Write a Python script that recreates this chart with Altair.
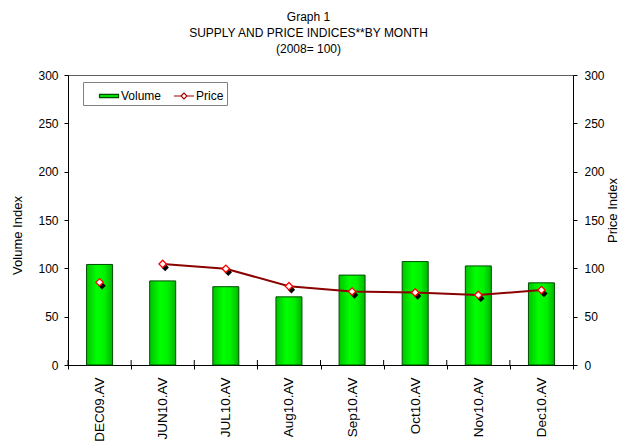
import altair as alt
import pandas as pd

months = ["DEC09.AV", "JUN10.AV", "JUL10.AV", "Aug10.AV",
          "Sep10.AV", "Oct10.AV", "Nov10.AV", "Dec10.AV"]
volume = [104, 87, 81, 70.5, 93, 107, 102.5, 85]
price = [85.5, 104.5, 99.5, 81.5, 76, 75, 72.5, 77.5]
# the price line is not drawn between the first and second month
price_in_line = [False, True, True, True, True, True, True, True]

series_names = ["Volume", "Price"]
y_ticks = [0, 50, 100, 150, 200, 250, 300]
title_lines = ["Graph 1", "SUPPLY AND PRICE INDICES**BY MONTH", "(2008= 100)"]

FONT = "Liberation Sans, Arial, sans-serif"
W, H = 505, 290

df = pd.DataFrame({"month": months, "volume": volume, "price": price,
                   "in_line": price_in_line})
legend_df = pd.DataFrame({"series": series_names})

x_enc = alt.X("month:N", sort=months,
              scale=alt.Scale(paddingInner=0, paddingOuter=0),
              axis=alt.Axis(title=None, labelAngle=270, labelAlign="right",
                            labelBaseline="middle", labelPadding=8,
                            ticks=True, tickBand="extent", tickSize=4,
                            tickColor="black",
                            labelFontSize=13.5, labelFont=FONT,
                            labelColor="black", domainColor="black"))

bar_fill = alt.Gradient(
    gradient="linear", x1=0, x2=1, y1=0, y2=0,
    stops=[alt.GradientStop(offset=0, color="#00c400"),
           alt.GradientStop(offset=0.4, color="#00ff00"),
           alt.GradientStop(offset=0.7, color="#00f000"),
           alt.GradientStop(offset=1, color="#00b400")])

bars = alt.Chart(df).mark_bar(size=26, fill=bar_fill, stroke="#004d00",
                              strokeWidth=1).encode(
    x=x_enc,
    y=alt.Y("volume:Q", scale=alt.Scale(domain=[0, 300], nice=False),
            axis=alt.Axis(title="Volume Index", values=y_ticks, orient="left",
                          grid=False, tickSize=4, labelPadding=6,
                          labelFontSize=12, labelFont=FONT, labelColor="black",
                          domainColor="black", tickColor="black",
                          titleFont=FONT, titleFontSize=13,
                          titleFontWeight="normal", titleColor="black",
                          titleX=-51, titleY=160, titleBaseline="middle")),
)

xticks = alt.Chart(df).mark_rule(color="black", strokeWidth=1).encode(
    x=alt.X("month:N", sort=months, bandPosition=0),
    y=alt.value(H - 5),
    y2=alt.value(H),
)

rect_path = "M-0.95,-0.16L0.95,-0.16L0.95,0.16L-0.95,0.16Z"
price_path = ("M-1,0L-0.3,0M-0.3,0L0,-0.3L0.3,0L0,0.3ZM0.3,0L1,0")

legend_layer = alt.Chart(legend_df).transform_filter("false").mark_point(
    filled=True, opacity=1).encode(
    shape=alt.Shape("series:N",
                    scale=alt.Scale(domain=series_names,
                                    range=[rect_path, price_path]),
                    legend=alt.Legend(title=" ", titleOrient="left",
                                      titleFontSize=1, titlePadding=12,
                                      orient="none", legendX=15,
                                      legendY=7, direction="horizontal",
                                      strokeColor="#808080", fillColor="white",
                                      padding=3, symbolSize=400,
                                      symbolStrokeWidth=1.2,
                                      labelFont=FONT, labelFontSize=12,
                                      labelColor="black", labelOffset=1,
                                      columnPadding=9)),
    fill=alt.Fill("series:N",
                  scale=alt.Scale(domain=series_names,
                                  range=["#00e000", "white"])),
    stroke=alt.Stroke("series:N",
                      scale=alt.Scale(domain=series_names,
                                      range=["#004d00", "#a00000"])),
)

price_y = alt.Y("price:Q", scale=alt.Scale(domain=[0, 300], nice=False),
                axis=alt.Axis(title="Price Index", values=y_ticks,
                              orient="right", grid=False, tickSize=4,
                              labelPadding=7, labelFontSize=12, labelFont=FONT,
                              labelColor="black", domainColor="black",
                              tickColor="black", titleFont=FONT,
                              titleFontSize=13, titleFontWeight="normal",
                              titleColor="black", titleAngle=270,
                              titleX=39, titleY=135, titleBaseline="middle"))

shadow = alt.Chart(df).mark_point(shape="diamond", filled=True, color="black",
                                  size=55, opacity=1, xOffset=2.5,
                                  yOffset=3.5).encode(
    x=alt.X("month:N", sort=months), y=price_y)

line = alt.Chart(df).transform_filter("datum.in_line").mark_line(
    color="#8b0000", strokeWidth=2).encode(
    x=alt.X("month:N", sort=months), y="price:Q")

diamonds = alt.Chart(df).mark_point(shape="diamond", filled=True,
                                    fill="white", stroke="#ff0000",
                                    strokeWidth=1.3, size=55,
                                    opacity=1).encode(
    x=alt.X("month:N", sort=months), y="price:Q")

left = alt.layer(bars, xticks, legend_layer)
right = alt.layer(shadow, line, diamonds)

chart = alt.layer(left, right).resolve_scale(y="independent").properties(
    width=W, height=H,
    autosize=alt.AutoSizeParams(type="none"),
    padding={"left": 60, "top": 67, "right": 45, "bottom": 80},
    title=alt.TitleParams(text=title_lines, font=FONT, fontSize=12,
                          fontWeight="normal", color="black", lineHeight=16,
                          anchor="middle", dx=-12, offset=13),
).configure_view(stroke="#606060", strokeWidth=1)

chart.save("out.html", embed_options={"renderer": "svg", "actions": False})
